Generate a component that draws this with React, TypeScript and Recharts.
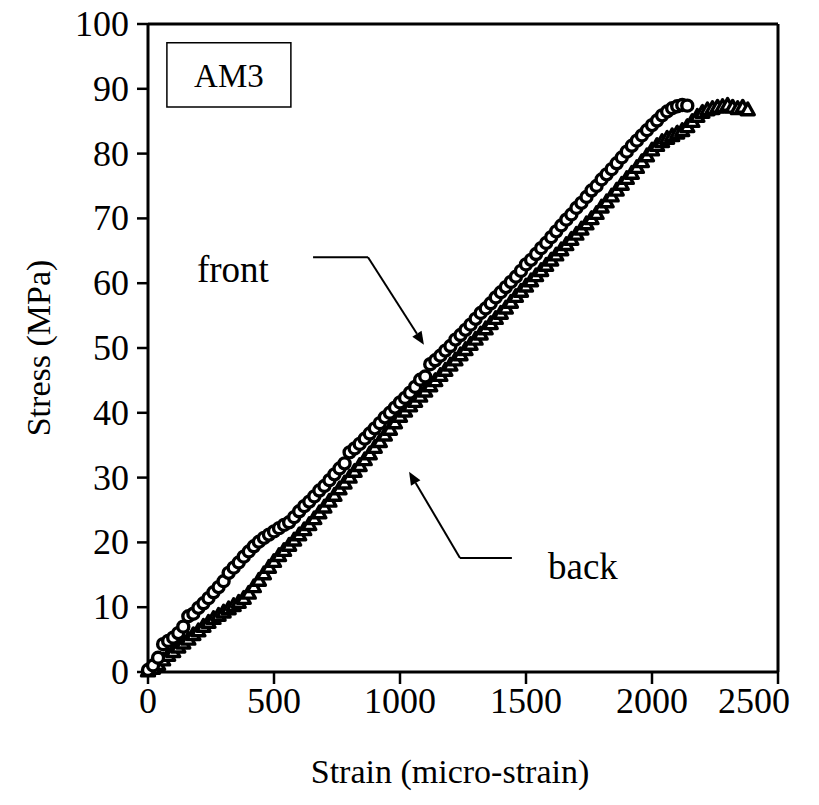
import { ScatterChart, Scatter, XAxis, YAxis, ReferenceLine, ReferenceArea, ReferenceDot } from 'recharts';

// front gauge (circles)
const frontStrain = [
  0, 20, 40, 60, 80, 100, 120, 140, 160, 180, 200, 220, 240, 260, 280, 300, 320, 340, 360, 380,
  400, 420, 440, 460, 480, 500, 520, 540, 560, 580, 600, 620, 640, 660, 680, 700, 720, 740, 760, 780,
  800, 820, 840, 860, 880, 900, 920, 940, 960, 980, 1000, 1020, 1040, 1060, 1080, 1100, 1120, 1140, 1160, 1180,
  1200, 1220, 1240, 1260, 1280, 1300, 1320, 1340, 1360, 1380, 1400, 1420, 1440, 1460, 1480, 1500, 1520, 1540, 1560, 1580,
  1600, 1620, 1640, 1660, 1680, 1700, 1720, 1740, 1760, 1780, 1800, 1820, 1840, 1860, 1880, 1900, 1920, 1940, 1960, 1980,
  2000, 2020, 2040, 2060, 2080, 2100, 2120, 2140,
];
const frontStress = [
  0.3, 1.0, 2.2, 4.3, 4.8, 5.3, 6.0, 7.0, 8.6, 9.0, 9.9, 10.6, 11.4, 12.3, 13.1, 14.0, 15.3, 16.1, 16.9, 17.8,
  18.6, 19.4, 20.1, 20.7, 21.2, 21.7, 22.2, 22.7, 23.1, 23.9, 24.8, 25.6, 26.3, 27.1, 28.0, 28.7, 29.6, 30.5, 31.4, 32.2,
  33.9, 34.5, 35.2, 36.0, 36.8, 37.6, 38.4, 39.3, 40.0, 40.8, 41.6, 42.3, 43.1, 44.0, 45.1, 45.6, 47.5, 48.1, 48.8, 49.6,
  50.3, 51.3, 52.0, 52.8, 53.6, 54.5, 55.4, 56.1, 56.9, 57.8, 58.6, 59.4, 60.2, 61.0, 61.9, 62.9, 63.6, 64.5, 65.4, 66.2,
  67.1, 68.0, 68.9, 69.8, 70.6, 71.6, 72.4, 73.3, 74.3, 75.0, 76.0, 76.8, 77.6, 78.5, 79.4, 80.3, 81.2, 82.0, 82.8, 83.6,
  84.4, 85.1, 85.9, 86.5, 87.0, 87.3, 87.5, 87.4,
];

// back gauge (triangles)
const backStrain = [
  0, 20, 40, 60, 80, 100, 120, 140, 160, 180, 200, 220, 240, 260, 280, 300, 320, 340, 360, 380,
  400, 420, 440, 460, 480, 500, 520, 540, 560, 580, 600, 620, 640, 660, 680, 700, 720, 740, 760, 780,
  800, 820, 840, 860, 880, 900, 920, 940, 960, 980, 1000, 1020, 1040, 1060, 1080, 1100, 1120, 1140, 1160, 1180,
  1200, 1220, 1240, 1260, 1280, 1300, 1320, 1340, 1360, 1380, 1400, 1420, 1440, 1460, 1480, 1500, 1520, 1540, 1560, 1580,
  1600, 1620, 1640, 1660, 1680, 1700, 1720, 1740, 1760, 1780, 1800, 1820, 1840, 1860, 1880, 1900, 1920, 1940, 1960, 1980,
  2000, 2020, 2040, 2060, 2080, 2100, 2120, 2140, 2160, 2180, 2200, 2220, 2240, 2260, 2280, 2300, 2320, 2340, 2360, 2380,
];
const backStress = [
  0.2, 0.6, 1.2, 1.9, 2.6, 3.2, 3.9, 4.5, 5.1, 5.8, 6.4, 7.1, 7.7, 8.3, 8.8, 9.3, 9.8, 10.3, 10.8, 11.4,
  12.2, 13.2, 14.2, 15.2, 16.2, 17.1, 18.0, 18.8, 19.6, 20.4, 21.2, 22.0, 22.8, 23.7, 24.6, 25.5, 26.4, 27.3, 28.3, 29.2,
  30.1, 31.0, 31.9, 32.8, 33.7, 34.7, 35.6, 36.6, 37.5, 38.5, 39.5, 40.3, 41.1, 41.8, 42.6, 43.4, 44.2, 45.0, 45.8, 46.6,
  47.4, 48.2, 49.0, 49.8, 50.6, 51.4, 52.2, 53.0, 53.8, 54.6, 55.4, 56.2, 57.1, 58.0, 58.8, 59.6, 60.4, 61.2, 62.0, 62.8,
  63.6, 64.4, 65.2, 66.0, 66.8, 67.6, 68.4, 69.2, 70.0, 70.8, 71.8, 72.6, 73.5, 74.4, 75.3, 76.2, 77.0, 77.9, 78.8, 79.7,
  80.6, 81.3, 81.9, 82.4, 82.8, 83.2, 83.6, 84.2, 85.0, 85.8, 86.4, 86.8, 87.0, 87.2, 87.3, 87.5, 87.2, 87.0, 87.2, 86.8,
];

const xTicks = [0, 500, 1000, 1500, 2000, 2500];
const yTicks = [0, 10, 20, 30, 40, 50, 60, 70, 80, 90, 100];

const front = frontStrain.map((s, i) => ({ strain: s, stress: frontStress[i] }));
const back = backStrain.map((s, i) => ({ strain: s, stress: backStress[i] }));

const FONT = '"Liberation Serif", "Times New Roman", serif';
const TICK_FS = 36;
const TITLE_FS = 34;
const NOTE_FS = 37;

const Circle = (p: any) => (
  <circle cx={p.cx} cy={p.cy} r={5.5} fill="#fff" stroke="#000" strokeWidth={3.4} />
);

const Tri = (p: any) => {
  const s = 6.5;
  const pts = `${p.cx},${p.cy - s} ${p.cx - s},${p.cy + s * 0.8} ${p.cx + s},${p.cy + s * 0.8}`;
  return <polygon points={pts} fill="#fff" stroke="#000" strokeWidth={3.4} strokeLinejoin="round" />;
};

const XTick = ({ x, y, payload }: any) => {
  const shift = payload.value === 2500 ? -24 : 0;
  return (
    <text x={x + shift} y={y} dy={27} textAnchor="middle" fontFamily={FONT} fontSize={TICK_FS} fill="#000">
      {payload.value}
    </text>
  );
};

const YTick = ({ x, y, payload }: any) => (
  <text x={x} y={y} dy={12} textAnchor="end" fontFamily={FONT} fontSize={TICK_FS} fill="#000">
    {payload.value}
  </text>
);

const Plain = (p: any) => <line x1={p.x1} y1={p.y1} x2={p.x2} y2={p.y2} stroke="#000" strokeWidth={2} />;

const Arrow = (p: any) => {
  const { x1, y1, x2, y2 } = p;
  const a = Math.atan2(y2 - y1, x2 - x1);
  const L = 13;
  const W = 5.5;
  const bx = x2 - L * Math.cos(a);
  const by = y2 - L * Math.sin(a);
  const pts = `${x2},${y2} ${bx - W * Math.sin(a)},${by + W * Math.cos(a)} ${bx + W * Math.sin(a)},${by - W * Math.cos(a)}`;
  return (
    <g>
      <line x1={x1} y1={y1} x2={bx} y2={by} stroke="#000" strokeWidth={2} />
      <polygon points={pts} fill="#000" />
    </g>
  );
};

const Word = (txt: string) => (p: any) => (
  <text x={p.cx} y={p.cy} dy={12} textAnchor="middle" fontFamily={FONT} fontSize={NOTE_FS} fill="#000">
    {txt}
  </text>
);

export default function App() {
  return (
    <div style={{ position: 'absolute', left: 0, top: 0, width: 819, height: 805, background: '#fff' }}>
      <ScatterChart width={819} height={805} margin={{ top: 24, right: 41, bottom: 53, left: 38 }}>
        <XAxis
          type="number"
          dataKey="strain"
          domain={[0, 2500]}
          ticks={xTicks}
          interval={0}
          height={80}
          axisLine={{ stroke: '#000', strokeWidth: 3 }}
          tickLine={{ stroke: '#000', strokeWidth: 2.5 }}
          tickSize={12}
          tickMargin={2}
          tick={<XTick />}
          label={{
            content: ({ viewBox }: any) => (
              <text
                x={viewBox.x + viewBox.width / 2 - 13}
                y={viewBox.y + 111}
                textAnchor="middle"
                fontFamily={FONT}
                fontSize={TITLE_FS}
                fill="#000"
              >
                Strain (micro-strain)
              </text>
            ),
          }}
        />
        <YAxis
          type="number"
          dataKey="stress"
          domain={[0, 100]}
          ticks={yTicks}
          interval={0}
          width={110}
          axisLine={{ stroke: '#000', strokeWidth: 3 }}
          tickLine={{ stroke: '#000', strokeWidth: 2.5 }}
          tickSize={11}
          tickMargin={8}
          tick={<YTick />}
          label={{
            content: ({ viewBox }: any) => {
              const cx = viewBox.x;
              const cy = viewBox.y + viewBox.height / 2;
              return (
                <text
                  x={cx}
                  y={cy}
                  dy={12}
                  transform={`rotate(-90, ${cx}, ${cy})`}
                  textAnchor="middle"
                  fontFamily={FONT}
                  fontSize={TITLE_FS}
                  fill="#000"
                >
                  Stress (MPa)
                </text>
              );
            },
          }}
        />
        <ReferenceLine y={100} stroke="#000" strokeWidth={3} />
        <ReferenceLine x={2500} stroke="#000" strokeWidth={3} />
        <ReferenceArea
          x1={75}
          x2={567}
          y1={87.2}
          y2={97.1}
          fill="#fff"
          fillOpacity={1}
          stroke="#000"
          strokeWidth={1.5}
          label={{ value: 'AM3', position: 'center', fontFamily: FONT, fontSize: 33, fill: '#000' }}
        />
        <Scatter data={back} shape={Tri} isAnimationActive={false} />
        <Scatter data={front} shape={Circle} isAnimationActive={false} />
        <ReferenceLine segment={[{ x: 655, y: 64 }, { x: 873, y: 64 }]} shape={Plain} />
        <ReferenceLine segment={[{ x: 873, y: 64 }, { x: 1095, y: 50.5 }]} shape={Arrow} />
        <ReferenceLine segment={[{ x: 1444, y: 17.6 }, { x: 1238, y: 17.6 }]} shape={Plain} />
        <ReferenceLine segment={[{ x: 1238, y: 17.6 }, { x: 1036, y: 30.9 }]} shape={Arrow} />
        <ReferenceDot x={337} y={62.0} r={0} shape={Word('front')} />
        <ReferenceDot x={1726} y={16.2} r={0} shape={Word('back')} />
      </ScatterChart>
    </div>
  );
}
